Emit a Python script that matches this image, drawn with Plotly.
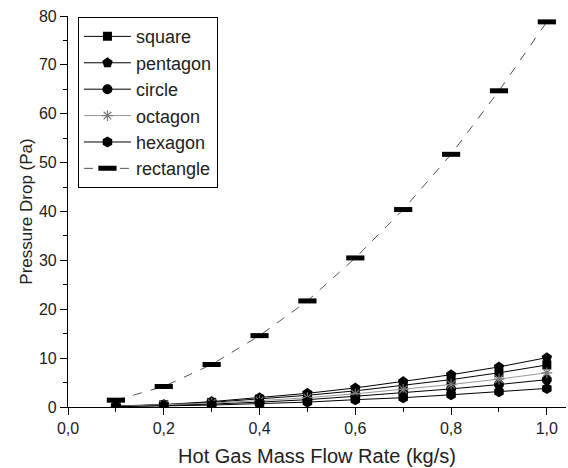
import plotly.graph_objects as go

flow = [0.1, 0.2, 0.3, 0.4, 0.5, 0.6, 0.7, 0.8, 0.9, 1.0]
square = [0.15, 0.45, 0.95, 1.6, 2.4, 3.3, 4.4, 5.6, 7.0, 8.6]
pentagon = [0.2, 0.5, 1.1, 1.9, 2.8, 3.9, 5.2, 6.6, 8.2, 10.1]
circle = [0.1, 0.3, 0.6, 1.0, 1.5, 2.2, 2.9, 3.7, 4.6, 5.6]
octagon = [0.12, 0.4, 0.8, 1.3, 1.9, 2.7, 3.6, 4.6, 5.7, 7.0]
hexagon = [0.07, 0.2, 0.4, 0.7, 1.0, 1.5, 1.9, 2.5, 3.1, 3.8]
rectangle = [1.4, 4.2, 8.7, 14.6, 21.7, 30.5, 40.4, 51.7, 64.7, 78.8]

x_ticks = [0.0, 0.2, 0.4, 0.6, 0.8, 1.0]
y_ticks = [0, 10, 20, 30, 40, 50, 60, 70, 80]

FONT = "Liberation Sans, Arial, sans-serif"

series = [
    ("square", square, "square", 9, "black", "solid", "black"),
    ("pentagon", pentagon, "pentagon", 11, "black", "solid", "black"),
    ("circle", circle, "circle", 10, "black", "solid", "black"),
    ("octagon", octagon, "asterisk-open", 9, "#777", "solid", "#999"),
    ("hexagon", hexagon, "hexagon", 11, "black", "solid", "black"),
]

fig = go.Figure()
for name, vals, sym, size, mcol, dash, lcol in series:
    marker = dict(symbol=sym, size=size, color=mcol)
    if sym.endswith("open"):
        marker["line"] = dict(color=mcol, width=1.2)
    fig.add_trace(go.Scatter(
        x=flow, y=vals, name=name, mode="lines+markers",
        line=dict(color=lcol, width=1, dash=dash),
        marker=marker,
    ))

fig.add_trace(go.Scatter(
    x=flow, y=rectangle, name="rectangle", mode="lines+markers",
    line=dict(color="#555", width=1, dash="dash"),
    marker=dict(symbol="line-ew", size=13, color="black",
                line=dict(color="black", width=5)),
))

fig.update_layout(
    width=568, height=468,
    margin=dict(l=68, r=2, t=16, b=61),
    paper_bgcolor="white", plot_bgcolor="white",
    font=dict(family=FONT, color="#222", size=16),
    separators=", ",
    showlegend=True,
    legend=dict(
        x=0.02, y=0.997, xanchor="left", yanchor="top",
        bgcolor="white", bordercolor="black", borderwidth=1,
        font=dict(family=FONT, size=18, color="#222"),
        itemwidth=47, tracegroupgap=0,
    ),
    xaxis=dict(
        range=[0, 1.04], tickvals=x_ticks, tickformat=".1f",
        ticks="outside", ticklen=7, tickwidth=1, tickcolor="black",
        minor=dict(dtick=0.1, ticks="outside", ticklen=4, tickcolor="black"),
        showline=True, linecolor="black", linewidth=1.2,
        showgrid=False, zeroline=False,
        tickfont=dict(size=16),
        title=dict(text="Hot Gas Mass Flow Rate (kg/s)", font=dict(size=20), standoff=12),
    ),
    yaxis=dict(
        range=[0, 80], tickvals=y_ticks,
        ticks="outside", ticklen=7, tickwidth=1, tickcolor="black",
        minor=dict(dtick=5, ticks="outside", ticklen=4, tickcolor="black"),
        showline=True, linecolor="black", linewidth=1.2,
        showgrid=False, zeroline=False,
        tickfont=dict(size=16),
        title=dict(text="Pressure Drop (Pa)", font=dict(size=17), standoff=1),
    ),
)

fig.write_html("out.html")
